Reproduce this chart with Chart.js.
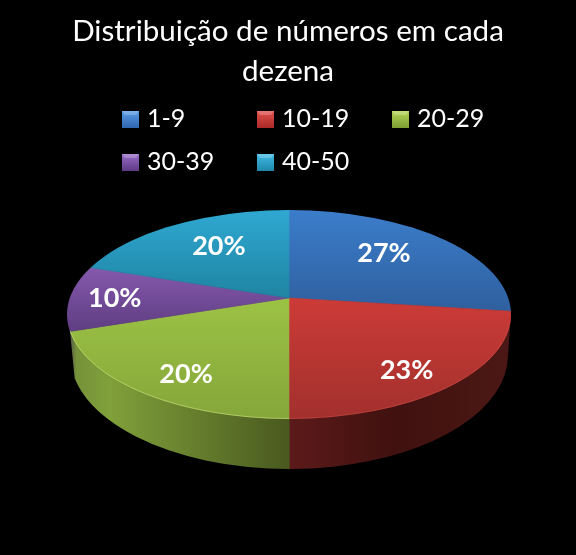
<!DOCTYPE html>
<html><head><meta charset="utf-8">
<style>html,body{margin:0;padding:0;background:#000}canvas{display:block}</style>
<script src="https://cdn.jsdelivr.net/npm/chart.js@4"></script>
</head><body><canvas id="c" width="576" height="555"></canvas>
<script>
const categories = ["1-9","10-19","20-29","30-39","40-50"];
const values = [27,23,20,10,20];
const titleLines = ["Distribuição de números em cada","dezena"];
const baseColors = ["#3a74c0","#c43a36","#94b942","#71499a","#2a9cc2"];
const topStops = [["#3b7dcb","#2f609f"],["#cc3b37","#a2302d"],["#9cc244","#85a63a"],["#8558ad","#5f3e82"],["#2fa8d2","#1f84a2"]];
const swatchStops = [["#5a9be6","#2f66ae"],["#e2504c","#a82a28"],["#b4d456","#7e9e34"],["#9a6cc8","#5c3a84"],["#40bce6","#1f86aa"]];
const labelReach = [.69,.776,.767,.795,.684];

const G = {cx:289,cy:314.5,rx:222,ry:104.5,apexX:289,apexY:298,squash:.47,labelSquash:.54};

const pie3d = {
  id:'pie3d',
  beforeDraw(chart){
    const c=chart.ctx; c.save(); c.fillStyle='#000'; c.fillRect(0,0,chart.width,chart.height); c.restore();
  },
  beforeDatasetsDraw(chart){
    const c=chart.ctx, arcs=chart.getDatasetMeta(0).data;
    const R=arcs[0].outerRadius, ox=arcs[0].x, oy=arcs[0].y;
    const paint=(el,fill)=>{
      const w=Object.create(el), o=Object.create(el.options);
      o.backgroundColor=fill; o.borderColor=fill; o.borderWidth=0.6;
      w.options=o; w.draw(c);
    };
    // side wall: same slices, enlarged about the apex so only the front two reach the rim
    let sx=480/R, sy=sx*G.squash;
    let lx=x=>ox+(x-G.apexX)/sx;
    c.save();
    c.beginPath();
    c.moveTo(70,331);
    c.lineTo(74.6,378);
    c.ellipse(G.cx,355,219,114,0,Math.PI*.935,0,true);
    c.lineTo(G.cx+G.rx,G.cy);
    c.lineTo(G.apexX,G.apexY);
    c.closePath();
    c.clip();
    c.translate(G.apexX,G.apexY); c.scale(sx,sy); c.translate(-ox,-oy);
    const gw=c.createLinearGradient(lx(70),0,lx(289),0);
    gw.addColorStop(0,'#565c48'); gw.addColorStop(.03,'#76923a'); gw.addColorStop(.18,'#80a03a'); gw.addColorStop(1,'#49591f');
    const rw=c.createLinearGradient(lx(289),0,lx(508),0);
    rw.addColorStop(0,'#5c1a1a'); rw.addColorStop(.5,'#3f110f'); rw.addColorStop(1,'#4c1815');
    arcs.forEach((el,i)=>paint(el,i===1?rw:i===2?gw:'#000'));
    c.restore();
    // top face
    sx=300/R; sy=sx*G.squash;
    const ly=y=>oy+(y-G.apexY)/sy;
    c.save();
    c.beginPath();
    c.ellipse(G.cx,G.cy,G.rx,G.ry,0,0,Math.PI*2);
    c.clip();
    c.translate(G.apexX,G.apexY); c.scale(sx,sy); c.translate(-ox,-oy);
    const spans=[[210,310],[298,419],[298,419],[268,331],[210,298]];
    arcs.forEach((el,i)=>{
      const g=c.createLinearGradient(0,ly(spans[i][0]),0,ly(spans[i][1]));
      g.addColorStop(0,topStops[i][0]); g.addColorStop(1,topStops[i][1]);
      paint(el,g);
    });
    c.restore();
    // rim highlight
    c.save(); c.lineWidth=1;
    c.strokeStyle='rgba(205,228,130,.55)';
    c.beginPath(); c.ellipse(G.cx,G.cy,G.rx-.5,G.ry-.5,0,Math.PI/2,Math.PI*.95); c.stroke();
    c.strokeStyle='rgba(225,95,85,.3)';
    c.beginPath(); c.ellipse(G.cx,G.cy,G.rx-.5,G.ry-.5,0,Math.PI*.02,Math.PI/2); c.stroke();
    c.restore();
    return false;
  },
  afterDraw(chart){
    const c=chart.ctx, arcs=chart.getDatasetMeta(0).data, total=values.reduce((a,b)=>a+b,0);
    c.save();
    // value labels
    c.font='bold 27px Lato'; c.fillStyle='#fff'; c.textAlign='center'; c.textBaseline='middle';
    arcs.forEach((el,i)=>{
      const mid=(el.startAngle+el.endAngle)/2;
      const dx=Math.cos(mid), dy=Math.sin(mid)*G.labelSquash, y0=G.apexY-G.cy;
      const A=dx*dx/(G.rx*G.rx)+dy*dy/(G.ry*G.ry), B=2*y0*dy/(G.ry*G.ry), C=y0*y0/(G.ry*G.ry)-1;
      const t=(-B+Math.sqrt(B*B-4*A*C))/(2*A)*labelReach[i];
      c.fillText(Math.round(values[i]/total*100)+'%',G.apexX+dx*t,G.apexY+dy*t);
    });
    // legend
    const cols=[122,257,392], rows=[111,154];
    c.font='25px Lato'; c.textAlign='left'; c.textBaseline='alphabetic';
    categories.forEach((name,i)=>{
      const x=cols[i%3], y=rows[Math.floor(i/3)], s=17;
      const g=c.createLinearGradient(0,y,0,y+s);
      g.addColorStop(0,swatchStops[i][0]); g.addColorStop(1,swatchStops[i][1]);
      c.fillStyle=g; c.fillRect(x,y,s,s);
      c.fillStyle='rgba(255,255,255,.22)';
      c.beginPath(); c.moveTo(x,y); c.lineTo(x+s,y); c.lineTo(x+s-3,y+4); c.lineTo(x+3,y+4); c.closePath(); c.fill();
      c.fillStyle='#fff'; c.fillText(name,x+25,y+16);
    });
    c.restore();
  }
};

new Chart(document.getElementById('c'),{
  type:'pie',
  data:{labels:categories,datasets:[{data:values,backgroundColor:baseColors,borderWidth:0}]},
  options:{
    responsive:false,animation:false,devicePixelRatio:1,
    layout:{padding:0},
    plugins:{
      legend:{display:false},tooltip:{enabled:false},
      title:{display:true,text:titleLines,color:'#fff',font:{family:'Lato',size:29.6,weight:'normal',lineHeight:1.37},padding:{top:11,bottom:0}}
    }
  },
  plugins:[pie3d]
});
</script></body></html>
